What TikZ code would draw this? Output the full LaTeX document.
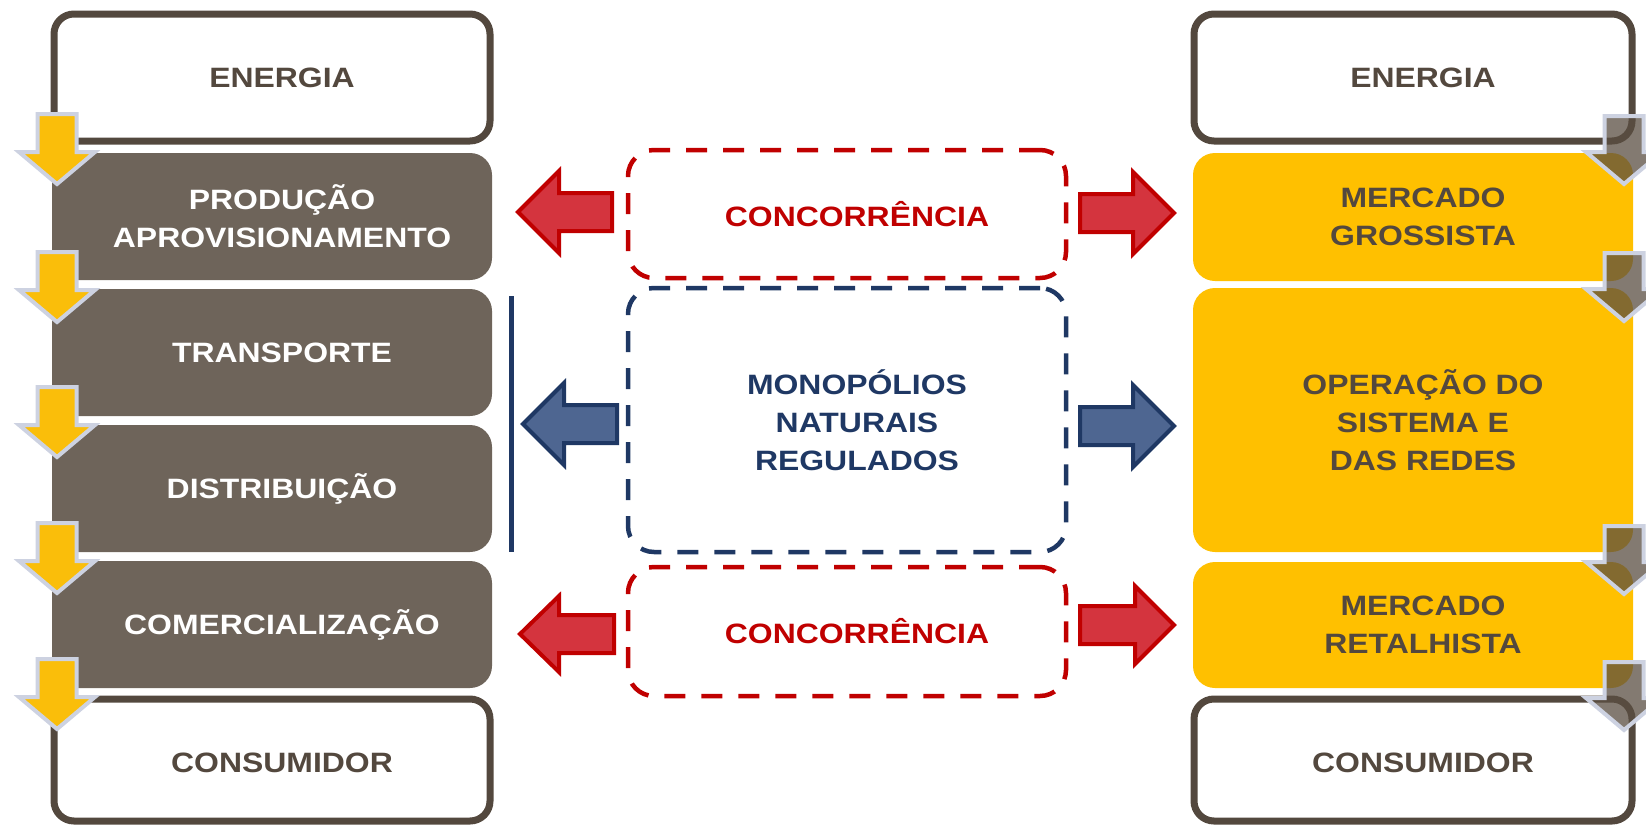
\documentclass[tikz,border=0pt]{standalone}
\usepackage{fontspec}
\setmainfont{Liberation Sans}[FakeStretch=1.14]
\usetikzlibrary{positioning}

\definecolor{boxline}{RGB}{83,72,62}
\definecolor{stagebrown}{RGB}{110,100,90}
\definecolor{marketyellow}{RGB}{255,192,0}
\definecolor{compred}{RGB}{192,0,0}
\definecolor{redfill}{RGB}{212,52,62}
\definecolor{regblue}{RGB}{31,56,100}
\definecolor{bluefill}{RGB}{78,102,145}
\definecolor{goldfill}{RGB}{250,190,10}
\definecolor{arrowrim}{RGB}{205,210,225}
\definecolor{greyfill}{RGB}{90,78,65}

\tikzset{
  endbox/.style={draw=boxline, line width=7pt, rounded corners=20pt, minimum width=436pt, minimum height=127pt},
  stagebox/.style={fill=stagebrown, rounded corners=22pt, minimum width=440pt, minimum height=127pt},
  marketbox/.style={fill=marketyellow, rounded corners=22pt, minimum width=440pt, minimum height=127pt},
  dashbox/.style={draw, line width=4.5pt, dash pattern=on 21pt off 16pt, rounded corners=26pt, minimum width=438pt, minimum height=128pt},
  lbl/.style={font=\bfseries\fontsize{28}{38}\selectfont, align=center, inner sep=0pt, text=boxline},
  goldarrow/.style={fill=goldfill, draw=arrowrim, line width=4pt},
  greyarrow/.style={fill=greyfill, fill opacity=0.75, draw=arrowrim, line width=4pt},
  redarrow/.style={fill=redfill, draw=compred, line width=4pt},
  bluearrow/.style={fill=bluefill, draw=regblue, line width=4pt},
}

\begin{document}
\begin{tikzpicture}[x=1pt, y=-1pt]
	\useasboundingbox (0,0) rectangle (1646,825);
	\clip (0,0) rectangle (1646,825);

	% Left column: value chain
	\node[endbox] (energiaL) at (272,77.5) {};
	\node[stagebox] (prod) at (272,216.5) {};
	\node[stagebox] (trans) at (272,352.5) {};
	\node[stagebox] (dist) at (272,488.5) {};
	\node[stagebox] (comerc) at (272,624.5) {};
	\node[endbox, minimum height=122pt] (consL) at (272,760) {};

	\node[lbl] (energiaLtxt) at ([xshift=10pt]energiaL.center) {ENERGIA};
	\node[lbl, text=white] (prodtxt) at ([xshift=10pt]prod.center) {PRODUÇÃO\\APROVISIONAMENTO};
	\node[lbl, text=white] (transtxt) at ([xshift=10pt]trans.center) {TRANSPORTE};
	\node[lbl, text=white] (disttxt) at ([xshift=10pt]dist.center) {DISTRIBUIÇÃO};
	\node[lbl, text=white] (comerctxt) at ([xshift=10pt]comerc.center) {COMERCIALIZAÇÃO};
	\node[lbl] (consLtxt) at ([xshift=10pt, yshift=-3pt]consL.center) {CONSUMIDOR};

	% Right column: markets
	\node[endbox, minimum width=438pt] (energiaR) at (1413,77.5) {};
	\node[marketbox, minimum height=128pt] (grossista) at (1413,217) {};
	\node[marketbox, minimum height=264pt] (operacao) at (1413,420) {};
	\node[marketbox, minimum height=126pt] (retalhista) at (1413,625) {};
	\node[endbox, minimum width=438pt, minimum height=122pt] (consR) at (1413,760) {};

	\node[lbl] (energiaRtxt) at ([xshift=10pt]energiaR.center) {ENERGIA};
	\node[lbl] (grossistatxt) at ([xshift=10pt]grossista.center) {MERCADO\\GROSSISTA};
	\node[lbl] (operacaotxt) at ([xshift=10pt]operacao.center) {OPERAÇÃO DO\\SISTEMA E\\DAS REDES};
	\node[lbl] (retalhistatxt) at ([xshift=10pt]retalhista.center) {MERCADO\\RETALHISTA};
	\node[lbl] (consRtxt) at ([xshift=10pt, yshift=-3pt]consR.center) {CONSUMIDOR};

	% Middle: market regimes
	\node[dashbox, draw=compred] (concTop) at (847,214) {};
	\node[dashbox, draw=regblue, minimum height=264pt] (monop) at (847,420) {};
	\node[dashbox, draw=compred, minimum height=129pt] (concBot) at (847,631.5) {};

	\node[lbl, text=compred] (concToptxt) at ([xshift=10pt]concTop.center) {CONCORRÊNCIA};
	\node[lbl, text=regblue] (monoptxt) at ([xshift=10pt]monop.center) {MONOPÓLIOS\\NATURAIS\\REGULADOS};
	\node[lbl, text=compred] (concBottxt) at ([xshift=10pt]concBot.center) {CONCORRÊNCIA};

	% Bracket for the regulated stages
	\draw[regblue, line width=5pt] (511,296) -- (511,552);

	% Block arrows
	\draw[redarrow, shift={(518,212)}] (0,0) -- (41,-41) -- (41,-19) -- (94,-19) -- (94,19) -- (41,19) -- (41,41) -- cycle;
	\draw[redarrow, shift={(1174,213)}, xscale=-1] (0,0) -- (41,-41) -- (41,-19) -- (94,-19) -- (94,19) -- (41,19) -- (41,41) -- cycle;
	\draw[bluearrow, shift={(523,424)}] (0,0) -- (41,-41) -- (41,-19) -- (94,-19) -- (94,19) -- (41,19) -- (41,41) -- cycle;
	\draw[bluearrow, shift={(1174,426)}, xscale=-1] (0,0) -- (41,-41) -- (41,-19) -- (94,-19) -- (94,19) -- (41,19) -- (41,41) -- cycle;
	\draw[redarrow, shift={(520,634)}] (0,0) -- (39,-38) -- (39,-19) -- (94,-19) -- (94,19) -- (39,19) -- (39,38) -- cycle;
	\draw[redarrow, shift={(1174,625)}, xscale=-1] (0,0) -- (39,-39) -- (39,-19) -- (94,-19) -- (94,19) -- (39,19) -- (39,39) -- cycle;

	% Flow arrows between stages
	\foreach \cy in {147,285,420,556,692}
		\draw[goldarrow, shift={(57,\cy)}] (-19.5,-33) -- (19.5,-33) -- (19.5,5) -- (38,5) -- (0,37) -- (-38,5) -- (-19.5,5) -- cycle;
	\foreach \cy in {147,284,557,693}
		\draw[greyarrow, shift={(1624,\cy)}] (-19.5,-31) -- (19.5,-31) -- (19.5,5) -- (38,5) -- (0,37) -- (-38,5) -- (-19.5,5) -- cycle;
\end{tikzpicture}
\end{document}
